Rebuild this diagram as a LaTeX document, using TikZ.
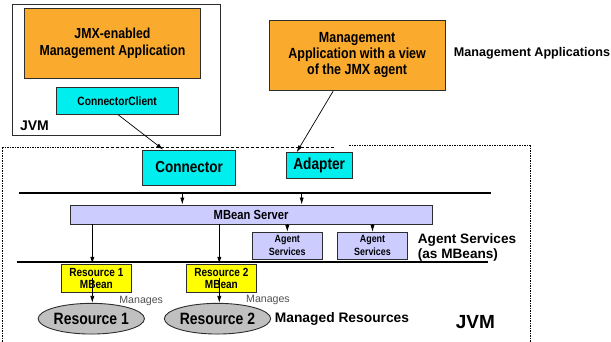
\documentclass[tikz,border=0pt]{standalone}
\usepackage{fontspec}
\setmainfont{Liberation Sans}
\newfontfamily\narrowsans[FakeStretch=0.85]{Liberation Sans}
\usetikzlibrary{arrows.meta,shapes.geometric}
\newcommand{\fsz}[2]{\fontsize{#1}{#2}\selectfont}
\definecolor{apporange}{RGB}{250,170,45}
\definecolor{conncyan}{RGB}{0,238,238}
\definecolor{mbeanblue}{RGB}{204,204,255}
\definecolor{resyellow}{RGB}{255,255,0}
\definecolor{resgray}{RGB}{192,192,192}
\definecolor{edge}{RGB}{45,45,45}
\definecolor{notegray}{RGB}{80,80,80}
\begin{document}
\begin{tikzpicture}[x=1pt,y=-1pt,
  box/.style={draw=edge,line width=0.9pt,inner sep=0pt,align=center},
  resource/.style={ellipse,draw=edge,line width=0.9pt,fill=resgray,inner sep=0pt},
  label/.style={inner sep=0pt,font=\bfseries},
  arr/.style={-{Latex[length=7pt,width=4.2pt]},line width=0.7pt},
  bus/.style={line width=1.8pt},
  frame/.style={line width=0.6pt,dash pattern=on 2pt off 1.2pt on 0.6pt off 1.2pt}
]
\useasboundingbox (0,0) rectangle (611,342);

% management side: JVM holding the JMX-enabled application
\node[box,fill=white,minimum width=208.4pt,minimum height=130.7pt] (jvmleft) at (116.5,69.65) {};
\node[box,fill=apporange,minimum width=176.4pt,minimum height=70pt,
      font=\narrowsans\bfseries\fsz{14.5}{17}] (app1) at (112.5,43.3)
      {JMX-enabled\\Management Application};
\node[box,fill=conncyan,minimum width=122.3pt,minimum height=27pt,
      font=\narrowsans\bfseries\fsz{12}{14}] (cclient) at (117.15,100.8) {ConnectorClient};
\node[label,font=\bfseries\fsz{14}{16}] (jvmtag1) at (34.5,126) {JVM};

\node[box,fill=apporange,minimum width=175.7pt,minimum height=70.7pt,
      font=\narrowsans\bfseries\fsz{14.7}{16}] (app2) at (357.15,55.35)
      {Management\\Application with a view\\of the JMX agent};
\node[label,font=\bfseries\fsz{12.6}{15}] (apptag) at (532,53.5) {Management Applications};

% agent JVM boundary
\draw[frame] (2,342) -- (2,147.3) -- (335,147.3);
\draw[frame] (349,145.7) -- (530,145.7) -- (530,342);

% distributed services level
\node[box,fill=conncyan,minimum width=93pt,minimum height=35pt,
      font=\narrowsans\bfseries\fsz{15.9}{18}] (connector) at (189.2,167.5) {Connector};
\node[box,fill=conncyan,minimum width=66.3pt,minimum height=25.6pt,
      font=\narrowsans\bfseries\fsz{16.1}{18}] (adapter) at (319.15,165.5) {Adapter};

% agent level
\node[box,fill=mbeanblue,minimum width=362.3pt,minimum height=19pt,
      font=\narrowsans\bfseries\fsz{13.2}{15}] (mbs) at (251.15,214.5) {MBean Server};
\node[box,fill=mbeanblue,minimum width=70pt,minimum height=27pt,
      font=\narrowsans\bfseries\fsz{10.5}{13}] (agent1) at (287.3,245.8) {Agent\\Services};
\node[box,fill=mbeanblue,minimum width=70.4pt,minimum height=27pt,
      font=\narrowsans\bfseries\fsz{10.5}{13}] (agent2) at (372.5,245.8) {Agent\\Services};
\node[label,font=\bfseries\fsz{13.6}{15},align=left,anchor=west] (agenttag) at (417.7,247.5)
      {Agent Services\\(as MBeans)};

% instrumentation level
\node[box,fill=resyellow,minimum width=69.3pt,minimum height=28pt,
      font=\narrowsans\bfseries\fsz{11.8}{12.4}] (res1mb) at (96.35,278.3) {Resource 1\\MBean};
\node[box,fill=resyellow,minimum width=69.3pt,minimum height=28pt,
      font=\narrowsans\bfseries\fsz{11.8}{12.4}] (res2mb) at (221.35,278.3) {Resource 2\\MBean};
\node[resource,minimum width=93.4pt,minimum height=30.7pt,
      font=\narrowsans\bfseries\fsz{16.4}{18}] (res1) at (91.3,318.7) {Resource 1};
\node[resource,minimum width=93.3pt,minimum height=30.7pt,
      font=\narrowsans\bfseries\fsz{16.4}{18}] (res2) at (217.5,318.7) {Resource 2};
\node[inner sep=0pt,text=notegray,font=\fsz{10.6}{12}] (manages1) at (141.2,300.7) {Manages};
\node[inner sep=0pt,text=notegray,font=\fsz{10.6}{12}] (manages2) at (268,300.3) {Manages};
\node[label,font=\bfseries\fsz{13.8}{16}] (restag) at (342,319) {Managed Resources};
\node[label,font=\bfseries\fsz{19}{21}] (jvmtag2) at (475.3,321.7) {JVM};

% buses
\coordinate (bus1w) at (19,193.3);
\coordinate (bus1e) at (490.7,193.3);
\coordinate (bus2w) at (16.7,262);
\coordinate (bus2e) at (488.3,262);
\draw[bus] (bus1w) -- (bus1e);
\draw[bus] (bus2w) -- (bus2e);

% taps from the protocol bus into the MBean server
\coordinate (tap1) at (182.3,193.3);
\coordinate (tap2) at (301.7,193.3);
\draw[arr] (tap1) -- (tap1 |- mbs.north);
\draw[arr] (tap2) -- (tap2 |- mbs.north);

% client side to agent side
\draw[arr] ([xshift=1pt]cclient.south) -- ([xshift=-26pt]connector.north);
\draw[arr] ([xshift=-24pt]app2.south) -- ([xshift=-22.5pt]adapter.north);

% MBean server to agent services
\draw[arr] (mbs.south -| agent1.north) -- (agent1.north);
\draw[arr] (mbs.south -| agent2.north) -- (agent2.north);

% MBean server to resource MBeans, and on to the resources
\coordinate (drop1) at (92.3,0);
\coordinate (drop2) at (219.3,0);
\draw[arr] (mbs.south -| drop1) -- (res1mb.north -| drop1);
\draw[arr] (mbs.south -| drop2) -- (res2mb.north -| drop2);
\draw[arr] (res1mb.center -| drop1) -- (res1.north -| drop1);
\draw[arr] (res2mb.center -| drop2) -- (res2.north -| drop2);
\end{tikzpicture}
\end{document}
